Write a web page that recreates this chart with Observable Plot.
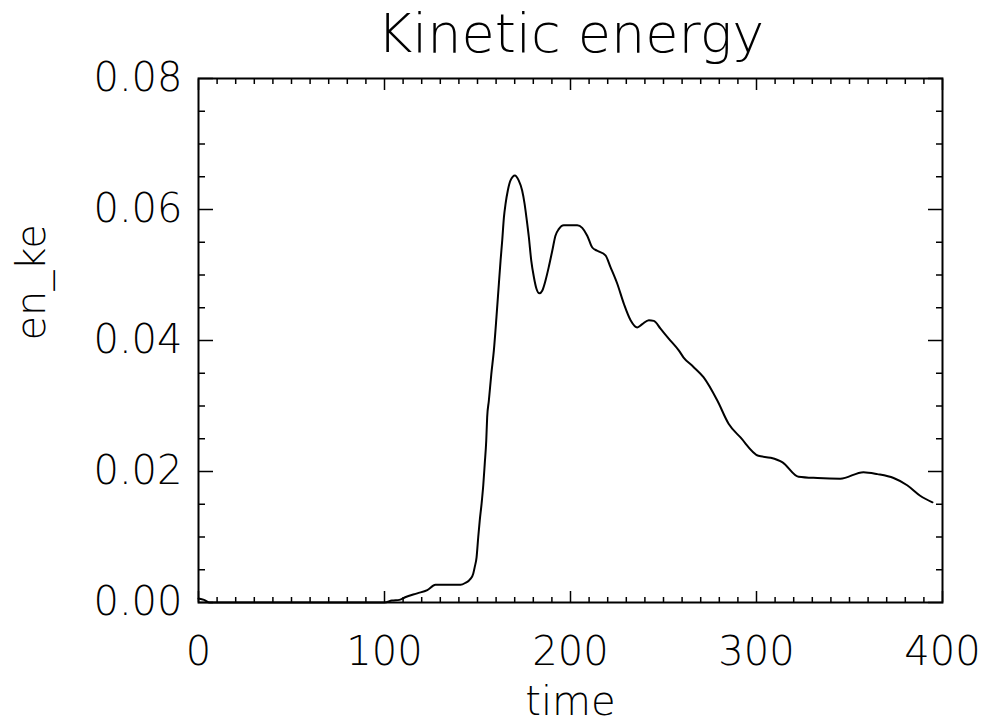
<!DOCTYPE html>
<html>
<head>
<meta charset="utf-8">
<script src="https://cdn.jsdelivr.net/npm/d3@7"></script>
<script src="https://cdn.jsdelivr.net/npm/@observablehq/plot@0.6"></script>
<style>
  html, body { margin: 0; padding: 0; background: #fff; }
  #chart svg { display: block; }
</style>
</head>
<body>
<div id="chart"></div>
<script>
// Kinetic energy time series
const time = [
  0, 3, 6, 50, 100, 104, 108, 111.1, 117.6, 123, 127.4, 134, 140.9, 143.5,
  146.2, 147.7, 148.5, 149.5, 150.4, 151.2, 152.2, 153.1, 153.9, 154.7, 155.2,
  156.1, 157.4, 158.8, 160.2, 161.5, 162.4, 163.3, 164.2, 165.1, 166.3, 167.7,
  170.1, 172.2, 174, 175.3, 176.3, 177.6, 178.9, 180.3, 181.7, 183.3, 184.8,
  186.6, 188.3, 190.2, 191.9, 193.7, 196.4, 203.6, 206.3, 209, 211.7, 214.4,
  218.8, 221.5, 225.1, 228.7, 232.3, 235.9, 238.6, 242.1, 244.8, 248.4, 252.8,
  258.2, 260.8, 266, 271.5, 279, 285, 291.4, 301, 307.5, 314, 322.6, 332.8,
  345, 357.5, 365, 373.7, 381, 388, 394.6
];
const enKe = [
  0.0006, 0.0004, 0, 0, 0, 0.0003, 0.0004, 0.0008, 0.0014, 0.0019, 0.0027, 0.0027, 0.0027, 0.0030,
  0.0036, 0.0044, 0.0054, 0.0069, 0.0100, 0.0125, 0.0151, 0.0179, 0.0212, 0.0247, 0.0283,
  0.0308, 0.0348, 0.0385, 0.0436, 0.0487, 0.0522, 0.0553, 0.0588, 0.0609, 0.0629, 0.0644,
  0.0652, 0.0644, 0.0629, 0.0609, 0.0588, 0.0558, 0.0522, 0.0497, 0.0479, 0.0472, 0.0476,
  0.0492, 0.0512, 0.0537, 0.0560, 0.0570, 0.0576, 0.0576, 0.0572, 0.0560, 0.0542, 0.0537,
  0.0530, 0.0512, 0.0487, 0.0456, 0.0431, 0.0420, 0.0425, 0.0431, 0.0430, 0.0418, 0.0403,
  0.0385, 0.0374, 0.0360, 0.0344, 0.0308, 0.0273, 0.0252, 0.0224, 0.0221, 0.0214, 0.0192, 0.0190,
  0.0189, 0.0199, 0.0196, 0.0190, 0.0179, 0.0163, 0.0153
];

// Axis ticks and labels
const xMajor = [0, 100, 200, 300, 400];
const xMinor = d3.range(0, 401, 10).filter(v => v % 100 !== 0);
const yMajor = [0, 0.02, 0.04, 0.06, 0.08];
const yMinor = d3.range(0, 16).map(i => i * 0.005).filter((v, i) => i % 4 !== 0);

const titleText = "Kinetic energy";
const xLabel = "time";
const yLabel = "en_ke";

const data = time.map((t, i) => ({time: t, en_ke: enKe[i]}));

const font = `"DejaVu Sans ExtraLight", "DejaVu Sans", sans-serif`;
const blank = () => "";

const chart = Plot.plot({
  width: 987,
  height: 728,
  marginLeft: 198,
  marginRight: 45,
  marginTop: 78,
  marginBottom: 126,
  style: {fontFamily: font, fontWeight: 200, background: "#fff", color: "#000", overflow: "visible"},
  x: {domain: [0, 400]},
  y: {domain: [0, 0.08]},
  marks: [
    // inward ticks on all four sides
    Plot.axisX(xMajor, {anchor: "bottom", tickSize: -11, tickFormat: blank, label: null, strokeWidth: 1.5}),
    Plot.axisX(xMinor, {anchor: "bottom", tickSize: -5, tickFormat: blank, label: null, strokeWidth: 1.5}),
    Plot.axisX(xMajor, {anchor: "top", tickSize: -11, tickFormat: blank, label: null, strokeWidth: 1.5}),
    Plot.axisX(xMinor, {anchor: "top", tickSize: -5, tickFormat: blank, label: null, strokeWidth: 1.5}),
    Plot.axisY(yMajor, {anchor: "left", tickSize: -15, tickFormat: blank, label: null, strokeWidth: 1.5}),
    Plot.axisY(yMinor, {anchor: "left", tickSize: -7, tickFormat: blank, label: null, strokeWidth: 1.5}),
    Plot.axisY(yMajor, {anchor: "right", tickSize: -15, tickFormat: blank, label: null, strokeWidth: 1.5}),
    Plot.axisY(yMinor, {anchor: "right", tickSize: -7, tickFormat: blank, label: null, strokeWidth: 1.5}),
    // tick labels
    Plot.axisX(xMajor, {anchor: "bottom", tickSize: 0, tickPadding: 34, fontSize: 40, label: null, tickFormat: d => String(d)}),
    Plot.axisY(yMajor, {anchor: "left", tickSize: 0, tickPadding: 16, fontSize: 40, label: null, tickFormat: d3.format(".2f")}),
    Plot.frame({stroke: "#000", strokeWidth: 2}),
    Plot.line(data, {x: "time", y: "en_ke", stroke: "#000", strokeWidth: 2, curve: "monotone-x"}),
    // title and axis titles
    Plot.text([titleText], {frameAnchor: "top", dy: -27, lineAnchor: "bottom", fontSize: 54, fill: "#000"}),
    Plot.text([xLabel], {frameAnchor: "bottom", dy: 112, lineAnchor: "bottom", fontSize: 40, fill: "#000"}),
    Plot.text([yLabel], {frameAnchor: "left", dx: -166, rotate: -90, lineAnchor: "middle", fontSize: 40, fill: "#000"})
  ]
});

document.getElementById("chart").append(chart);
</script>
</body>
</html>
